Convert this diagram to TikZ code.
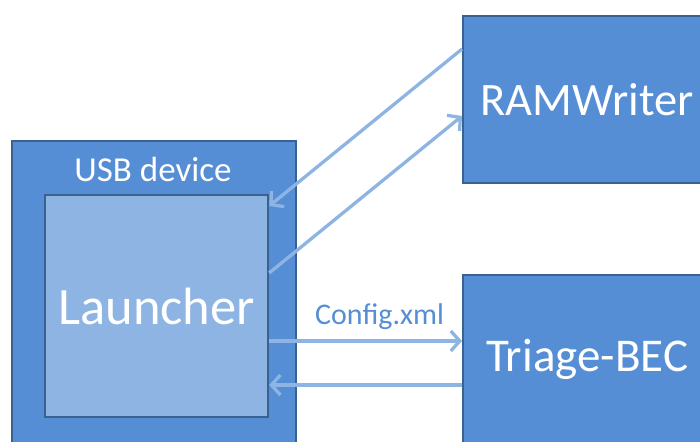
\documentclass[tikz,border=0pt]{standalone}
\usepackage{fontspec}
\setmainfont{Carlito}
\usetikzlibrary{arrows.meta}
\definecolor{boxfill}{HTML}{558ED5}
\definecolor{boxline}{HTML}{3A6291}
\definecolor{innerfill}{HTML}{8EB4E3}
\definecolor{arrowcol}{HTML}{8DB4E2}
\tikzset{
  bluebox/.style={draw=boxline, line width=2.2pt, fill=boxfill, text=white, inner sep=0pt},
  innerbox/.style={draw=boxline, line width=2.2pt, fill=innerfill, text=white, inner sep=0pt},
  arr/.style={draw=arrowcol, line width=3.3pt, -{Straight Barb[length=9pt,width=20pt,line width=3.3pt]}},
}
\begin{document}
\begin{tikzpicture}[x=1pt,y=1pt]
\useasboundingbox (0,0) rectangle (700,441);
\clip (0,0) rectangle (700,441);
% USB device outer box
\node[bluebox, minimum width=284pt, minimum height=330pt, anchor=north west] (usb) at (11,301) {};
\node[text=white, font=\fontsize{35}{38}\selectfont] (usblabel) at (153,272) {USB device};
% Launcher
\node[innerbox, minimum width=223pt, minimum height=222pt, anchor=north west, font=\fontsize{52.5}{56}\selectfont] (launcher) at (44,247) {Launcher};
% RAMWriter
\node[bluebox, minimum width=248pt, minimum height=167pt, anchor=north west, font=\fontsize{46.5}{50}\selectfont] (ram) at (462,426) {RAMWriter};
% Triage-BEC
\node[bluebox, minimum width=248pt, minimum height=168pt, anchor=north west, font=\fontsize{47}{50}\selectfont] (triage) at (462,167) {Triage-BEC};
% arrows
\draw[arr] ([yshift=-34pt]ram.north west) -- ([yshift=-12pt]launcher.north east);
\draw[arr] ([yshift=-79pt]launcher.north east) -- ([yshift=-101pt]ram.north west);
\draw[arr] ([yshift=-147pt]launcher.north east) -- node[above=6pt, xshift=14pt, text=boxfill, font=\fontsize{30}{33}\selectfont] (cfg) {Config.xml} ([yshift=-67pt]triage.north west);
\draw[arr] ([yshift=-111pt]triage.north west) -- ([yshift=-191pt]launcher.north east);
\end{tikzpicture}
\end{document}
